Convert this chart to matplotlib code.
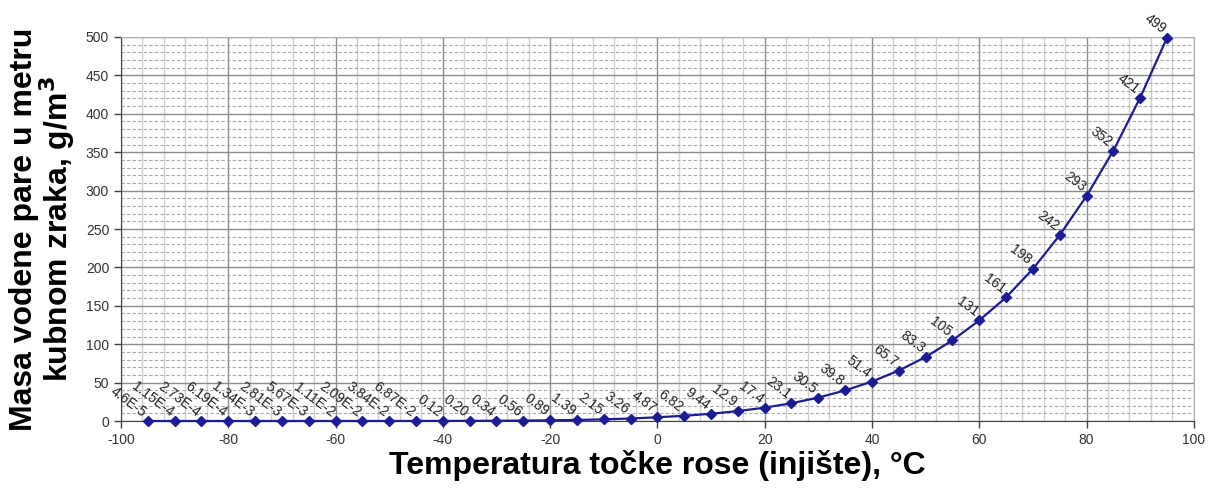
import matplotlib.pyplot as plt
from matplotlib.ticker import MultipleLocator

plt.rcParams['font.family'] = ['Liberation Sans', 'DejaVu Sans']
plt.rcParams['axes.unicode_minus'] = False

# dew point temperature, deg C
temps = [-95, -90, -85, -80, -75, -70, -65, -60, -55, -50, -45,
         -40, -35, -30, -25, -20, -15, -10, -5, 0,
         5, 10, 15, 20, 25, 30, 35, 40, 45, 50,
         55, 60, 65, 70, 75, 80, 85, 90, 95]
# water vapour mass per cubic metre, g/m3
mass = [4.6e-5, 1.15e-4, 2.73e-4, 6.19e-4, 1.34e-3, 2.81e-3, 5.67e-3, 1.11e-2, 2.09e-2, 3.84e-2, 6.87e-2,
        0.12, 0.20, 0.34, 0.56, 0.89, 1.39, 2.15, 3.26, 4.87,
        6.82, 9.44, 12.9, 17.4, 23.1, 30.5, 39.8, 51.4, 65.7, 83.3,
        105, 131, 161, 198, 242, 293, 352, 421, 499]
labels = ['4.6E-5', '1.15E-4', '2.73E-4', '6.19E-4', '1.34E-3', '2.81E-3', '5.67E-3', '1.11E-2',
          '2.09E-2', '3.84E-2', '6.87E-2', '0.12', '0.20', '0.34', '0.56', '0.89', '1.39', '2.15',
          '3.26', '4.87', '6.82', '9.44', '12.9', '17.4', '23.1', '30.5', '39.8', '51.4', '65.7',
          '83.3', '105', '131', '161', '198', '242', '293', '352', '421', '499']

fig = plt.figure(figsize=(12.12, 4.9), dpi=100)
ax = fig.add_axes([0.0998, 0.1408, 0.8852, 0.7837])

ax.plot(temps, mass, color='#1c1c96', linewidth=1.6, marker='D', markersize=5,
        markerfacecolor='#1c1c96', markeredgecolor='#1c1c96', zorder=3, clip_on=False)

for t, m, lab in zip(temps, mass, labels):
    ax.annotate(lab, (t, m), xytext=(-5, 1), textcoords='offset points',
                ha='right', va='bottom', rotation=-37, rotation_mode='anchor',
                fontsize=10, color='#222222', zorder=4, annotation_clip=False)

ax.set_xlim(-100, 100)
ax.set_ylim(0, 500)
ax.xaxis.set_major_locator(MultipleLocator(20))
ax.xaxis.set_minor_locator(MultipleLocator(4))
ax.yaxis.set_major_locator(MultipleLocator(50))
ax.yaxis.set_minor_locator(MultipleLocator(10))

ax.grid(which='major', color='#8c8c8c', linewidth=1.0)
ax.grid(which='minor', axis='x', color='#d0d0d0', linewidth=1.0)
ax.grid(which='minor', axis='y', color='#a8a8a8', linewidth=0.8, linestyle=(0, (3, 2)))
ax.set_axisbelow(True)

for s in ['top', 'right']:
    ax.spines[s].set_color('#b0b0b0')
ax.spines['left'].set_color('#404040')
ax.spines['bottom'].set_color('#404040')
ax.tick_params(which='major', length=5, width=1, color='#404040', labelsize=10, labelcolor='#333333')
ax.tick_params(which='minor', length=0)

ax.set_xlabel('Temperatura točke rose (injište), °C', fontsize=23, fontweight='bold', labelpad=2)
ax.set_ylabel('Masa vodene pare u metru\nkubnom zraka, g/m$^\\mathbf{3}$', fontsize=23,
              fontweight='bold', labelpad=6, linespacing=0.95)

fig.savefig('out.png', dpi=100)
